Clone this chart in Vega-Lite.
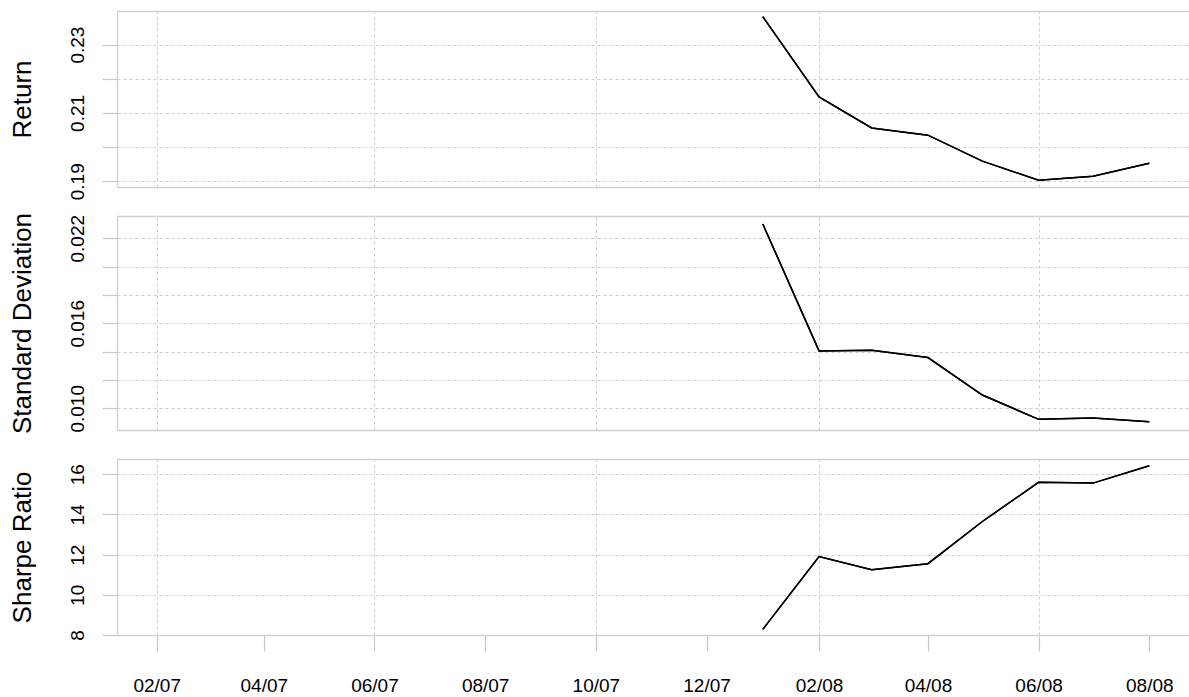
{
  "$schema": "https://vega.github.io/schema/vega-lite/v6.json",
  "padding": {"left": 8, "top": 11, "right": 0, "bottom": 0},
  "background": "white",
  "data": {
    "values": [
      {"date": "2008-01-01T00:00:00", "ret": 0.2382, "sd": 0.02301, "sharpe": 8.28},
      {"date": "2008-02-01T00:00:00", "ret": 0.2147, "sd": 0.01405, "sharpe": 11.90},
      {"date": "2008-03-01T00:00:00", "ret": 0.2056, "sd": 0.01410, "sharpe": 11.25},
      {"date": "2008-04-01T00:00:00", "ret": 0.2035, "sd": 0.01358, "sharpe": 11.55},
      {"date": "2008-05-01T00:00:00", "ret": 0.1959, "sd": 0.01094, "sharpe": 13.65},
      {"date": "2008-06-01T00:00:00", "ret": 0.1903, "sd": 0.00922, "sharpe": 15.60},
      {"date": "2008-07-01T00:00:00", "ret": 0.1915, "sd": 0.00931, "sharpe": 15.56},
      {"date": "2008-08-01T00:00:00", "ret": 0.1953, "sd": 0.00905, "sharpe": 16.42}
    ]
  },
  "spacing": 29,
  "bounds": "flush",
  "vconcat": [
    {
      "width": 1072,
      "height": 176,
      "layer": [
        {
          "mark": {"type": "line", "color": "black", "strokeWidth": 1.5},
          "encoding": {
            "x": {"field": "date", "type": "temporal",
              "scale": {"domain": [{"year": 2007, "month": 1, "date": 10, "hours": 3}, {"year": 2008, "month": 8, "date": 22, "hours": 21}]},
              "axis": {"orient": "bottom", "title": null, "labels": false, "ticks": false, "grid": false, "domain": true}},
            "y": {"field": "ret", "type": "quantitative",
              "scale": {"domain": [0.18833, 0.23983], "nice": false, "zero": false},
              "axis": {"title": "Return", "format": ".2f", "values": [0.19, 0.2, 0.21, 0.22, 0.23], "tickCount": 50, "labelOverlap": false,
                "labelExpr": "abs(datum.value-0.2)<1e-6 || abs(datum.value-0.22)<1e-6 ? '' : datum.label"}}
          }
        },
        {
          "mark": {"type": "line", "color": "black", "strokeWidth": 1.5},
          "encoding": {
            "x": {"field": "date", "type": "temporal",
              "axis": {"orient": "top", "title": null, "labels": false, "ticks": false, "grid": true, "domain": true, "tickCount": 50,
                "values": [{"year": 2007, "month": 2, "date": 1}, {"year": 2007, "month": 6, "date": 1}, {"year": 2007, "month": 10, "date": 1}, {"year": 2008, "month": 2, "date": 1}, {"year": 2008, "month": 6, "date": 1}]}},
            "y": {"field": "ret", "type": "quantitative"}
          }
        }
      ]
    },
    {
      "width": 1072,
      "height": 214,
      "layer": [
        {
          "mark": {"type": "line", "color": "black", "strokeWidth": 1.5},
          "encoding": {
            "x": {"field": "date", "type": "temporal",
              "scale": {"domain": [{"year": 2007, "month": 1, "date": 10, "hours": 3}, {"year": 2008, "month": 8, "date": 22, "hours": 21}]},
              "axis": {"orient": "bottom", "title": null, "labels": false, "ticks": false, "grid": false, "domain": true}},
            "y": {"field": "sd", "type": "quantitative",
              "scale": {"domain": [0.00847, 0.02357], "nice": false, "zero": false},
              "axis": {"title": "Standard Deviation", "format": ".3f", "tickCount": 50, "labelOverlap": false, "values": [0.010, 0.012, 0.014, 0.016, 0.018, 0.020, 0.022],
                "labelExpr": "abs(datum.value-0.01)<1e-6 || abs(datum.value-0.016)<1e-6 || abs(datum.value-0.022)<1e-6 ? datum.label : ''"}}
          }
        },
        {
          "mark": {"type": "line", "color": "black", "strokeWidth": 1.5},
          "encoding": {
            "x": {"field": "date", "type": "temporal",
              "axis": {"orient": "top", "title": null, "labels": false, "ticks": false, "grid": true, "domain": true, "tickCount": 50,
                "values": [{"year": 2007, "month": 2, "date": 1}, {"year": 2007, "month": 6, "date": 1}, {"year": 2007, "month": 10, "date": 1}, {"year": 2008, "month": 2, "date": 1}, {"year": 2008, "month": 6, "date": 1}]}},
            "y": {"field": "sd", "type": "quantitative"}
          }
        }
      ]
    },
    {
      "width": 1072,
      "height": 176,
      "layer": [
        {
          "mark": {"type": "line", "color": "black", "strokeWidth": 1.5},
          "encoding": {
            "x": {"field": "date", "type": "temporal",
              "scale": {"domain": [{"year": 2007, "month": 1, "date": 10, "hours": 3}, {"year": 2008, "month": 8, "date": 22, "hours": 21}]},
              "axis": {"orient": "bottom", "title": null, "labels": true, "ticks": true, "grid": false, "domain": true, "tickCount": 50,
                "format": "%m/%y", "tickSize": 16, "labelPadding": 25, "labelFlush": false, "labelOverlap": false,
                "values": [{"year": 2007, "month": 2, "date": 1}, {"year": 2007, "month": 4, "date": 1}, {"year": 2007, "month": 6, "date": 1}, {"year": 2007, "month": 8, "date": 1}, {"year": 2007, "month": 10, "date": 1}, {"year": 2007, "month": 12, "date": 1}, {"year": 2008, "month": 2, "date": 1}, {"year": 2008, "month": 4, "date": 1}, {"year": 2008, "month": 6, "date": 1}, {"year": 2008, "month": 8, "date": 1}]}},
            "y": {"field": "sharpe", "type": "quantitative",
              "scale": {"domain": [8, 16.76], "nice": false, "zero": false},
              "axis": {"title": "Sharpe Ratio", "format": ".0f", "tickCount": 50, "labelOverlap": false, "values": [8, 10, 12, 14, 16]}}
          }
        },
        {
          "mark": {"type": "line", "color": "black", "strokeWidth": 1.5},
          "encoding": {
            "x": {"field": "date", "type": "temporal",
              "axis": {"orient": "top", "title": null, "labels": false, "ticks": false, "grid": true, "domain": true, "tickCount": 50,
                "values": [{"year": 2007, "month": 2, "date": 1}, {"year": 2007, "month": 6, "date": 1}, {"year": 2007, "month": 10, "date": 1}, {"year": 2008, "month": 2, "date": 1}, {"year": 2008, "month": 6, "date": 1}]}},
            "y": {"field": "sharpe", "type": "quantitative"}
          }
        }
      ]
    }
  ],
  "config": {
    "font": "Liberation Sans",
    "view": {"stroke": null},
    "axis": {
      "domainColor": "#d0d0d0",
      "domainWidth": 1.3,
      "tickColor": "#c8c8c8",
      "tickWidth": 1.2,
      "gridColor": "#cccccc",
      "gridDash": [3, 3],
      "gridWidth": 1,
      "labelFont": "Liberation Sans",
      "titleFont": "Liberation Sans",
      "labelColor": "#000000",
      "titleColor": "#000000",
      "labelFontSize": 19,
      "titleFontSize": 26,
      "titleFontWeight": "normal"
    },
    "axisY": {
      "grid": true,
      "tickSize": 15,
      "labelAngle": 270,
      "labelAlign": "center",
      "labelBaseline": "bottom",
      "labelPadding": 15,
      "labelFlush": false,
      "labelOverlap": false,
      "labelBound": false,
      "titlePadding": 33
    }
  }
}
